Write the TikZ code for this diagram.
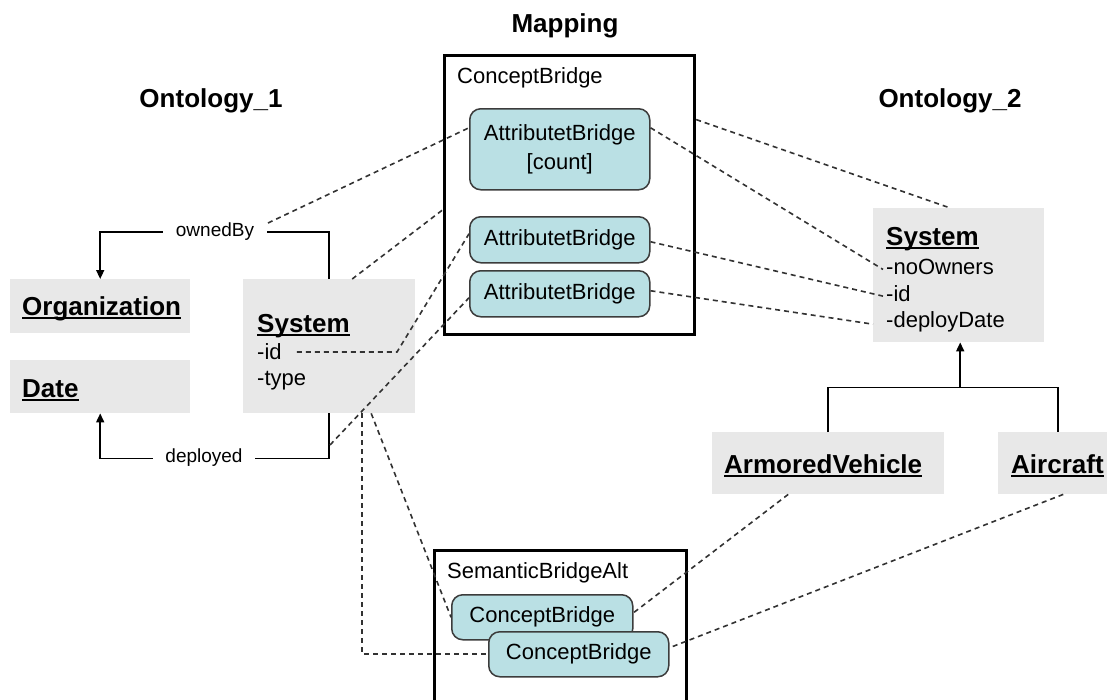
\documentclass[tikz,border=0pt]{standalone}
\usepackage{fontspec}
\setmainfont{Liberation Sans}
\usetikzlibrary{arrows.meta,calc}

\definecolor{boxgray}{RGB}{232,232,232}
\definecolor{bridgefill}{RGB}{186,224,228}
\definecolor{bridgeline}{RGB}{60,60,60}
\definecolor{linkgray}{RGB}{50,50,50}

% underline set close under the baseline
\newcommand{\ulbox}[1]{\setbox0\hbox{#1}\rlap{\vrule height -2.2pt depth 3.9pt width \wd0}\box0}

\tikzset{
  classbox/.style={fill=boxgray, draw=none, inner sep=0pt, anchor=north west},
  framebox/.style={draw=black, line width=3.2pt, fill=white, inner sep=0pt, anchor=north west},
  bridgebox/.style={draw=bridgeline, line width=1.5pt, fill=bridgefill, rounded corners=11pt,
    inner sep=0pt, anchor=north west, font=\fontsize{22}{29}\selectfont, align=center},
  titletext/.style={anchor=base, inner sep=0pt, font=\fontsize{26}{30}\selectfont\bfseries},
  classname/.style={anchor=base west, inner sep=0pt, font=\fontsize{26}{30}\selectfont\bfseries},
  attrtext/.style={anchor=base west, inner sep=0pt, font=\fontsize{22}{26}\selectfont},
  roletext/.style={fill=white, inner ysep=2pt, font=\fontsize{19}{22}\selectfont},
  relation/.style={draw=black, line width=1.6pt},
  inherit/.style={relation, -{Triangle[length=9pt,width=8pt]}},
  link/.style={draw=linkgray, line width=1.6pt, dash pattern=on 5pt off 4pt},
}

\begin{document}
\begin{tikzpicture}[x=1pt,y=-1pt]
\clip (0,0) rectangle (1107,699);
\fill[white] (0,0) rectangle (1107,699);

% ---------- headings ----------
\node[titletext] (hmap) at (565,32) {Mapping};
\node[titletext] (hont1) at (211,107) {Ontology\_1};
\node[titletext] (hont2) at (950,107) {Ontology\_2};

% ---------- Ontology_1 ----------
\node[classbox, minimum width=180pt, minimum height=54pt] (org) at (10,279) {};
\node[classbox, minimum width=180pt, minimum height=53pt] (date) at (10,360) {};
\node[classbox, minimum width=172pt, minimum height=134pt] (sys1) at (243,279) {};
\node[classname] (orgname) at (22,315) {\ulbox{Organization}};
\node[classname] (datename) at (22,397) {\ulbox{Date}};
\node[classname] (sys1name) at (257,332) {\ulbox{System}};
\node[attrtext] (sys1id) at (257,359) {-id};
\node[attrtext] (sys1type) at (257,385) {-type};

% associations
\draw[relation, -{Triangle[length=9pt,width=8pt]}] (sys1.north) -- ++(0,-47) -| (org.north);
\node[roletext, inner xsep=13pt] (owned) at (215,232) {ownedBy};
\draw[relation, -{Triangle[length=9pt,width=8pt]}] (sys1.south) -- ++(0,45) -| (date.south);
\node[roletext, inner xsep=12pt] (deployed) at (204,458) {deployed};

% ---------- Ontology_2 ----------
\node[classbox, minimum width=171pt, minimum height=134pt] (sys2) at (873,208) {};
\node[classbox, minimum width=232pt, minimum height=62pt] (av) at (712,432) {};
\node[classbox, minimum width=120pt, minimum height=62pt] (ac) at (998,432) {};
\node[classname] (sys2name) at (886,245) {\ulbox{System}};
\node[attrtext] (sys2own) at (886,274) {-noOwners};
\node[attrtext] (sys2id) at (886,301) {-id};
\node[attrtext] (sys2date) at (886,327) {-deployDate};
\node[classname] (avname) at (724,473) {\ulbox{ArmoredVehicle}};
\node[classname] (acname) at (1011,473) {\ulbox{Aircraft}};

% generalisation
\coordinate (jn) at ([xshift=1.5pt,yshift=-45pt]sys2.south);
\draw[relation] (av.north) |- (jn) -| (ac.north);
\draw[inherit] (jn) -- ([xshift=1.5pt]sys2.south);

% ---------- Mapping ----------
\node[framebox, minimum width=250pt, minimum height=279pt] (cb) at (443,54) {};
\node[attrtext] (cblabel) at (457,83) {ConceptBridge};
\node[bridgebox, minimum width=180pt, minimum height=81pt] (ab1) at (469,108) {AttributetBridge\\{}[count]};
\node[bridgebox, minimum width=180pt, minimum height=46pt] (ab2) at (469,216) {AttributetBridge};
\node[bridgebox, minimum width=180pt, minimum height=46pt] (ab3) at (469,270) {AttributetBridge};

\node[framebox, minimum width=252pt, minimum height=180pt] (sba) at (433,549) {};
\node[attrtext] (sbalabel) at (447,578) {SemanticBridgeAlt};
\node[bridgebox, minimum width=181pt, minimum height=45pt] (cb1) at (451,594) {ConceptBridge};
\node[bridgebox, minimum width=180pt, minimum height=45pt] (cb2) at (488,631) {ConceptBridge};

% ---------- correspondences ----------
\coordinate (ownedend) at (268,223);
\coordinate (idbend) at (397,352);
\coordinate (deployedpt) at (330,445);
\draw[link] (ownedend) -- ([yshift=21.5pt]ab1.west);
\draw[link] ([xshift=23pt]sys1.north) -- ([yshift=-14.5pt]cb.west);
\draw[link] ([xshift=15pt]sys1id.east |- idbend) -- (idbend) -- ([yshift=6pt]ab2.west);
\draw[link] (deployedpt) -- ([yshift=-4pt]ab3.west);

\draw[link] ([yshift=21.5pt]ab1.east) -- ([xshift=-3pt,yshift=-3pt]sys2own.west);
\draw[link] ([yshift=75.5pt]cb.east) -- ([xshift=-8.5pt]sys2.north);
\draw[link] ([yshift=-2pt]ab2.east) -- ([xshift=-3pt,yshift=-3pt]sys2id.west);
\draw[link] ([yshift=3pt]ab3.east) -- ([yshift=-49pt]sys2.west);

\draw[link] ([xshift=33pt]sys1.south) |- (cb2.west);
\draw[link] ([xshift=42pt]sys1.south) -- (cb1.west);
\draw[link] ([xshift=-40pt]av.south) -- ([yshift=4.5pt]cb1.east);
\draw[link] ([xshift=5pt]ac.south) -- ([yshift=6.5pt]cb2.east);
\end{tikzpicture}
\end{document}
